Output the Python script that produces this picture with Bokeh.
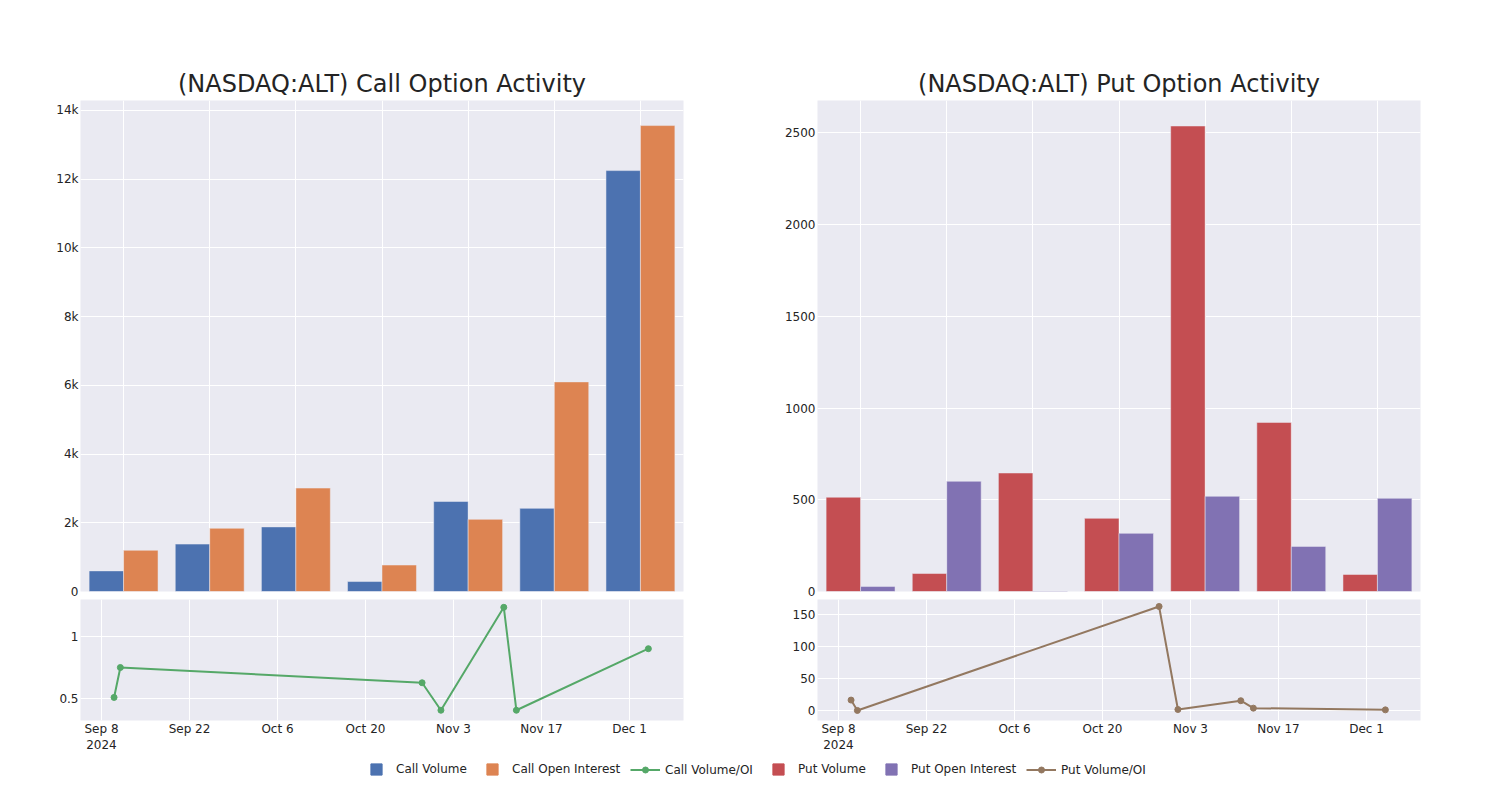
from datetime import datetime, timedelta
from bokeh.plotting import figure
from bokeh.models import (FactorRange, Range1d, FixedTicker, NumeralTickFormatter,
                          Legend, LegendItem, ColumnDataSource)
from bokeh.transform import dodge
from bokeh.layouts import column, row
from bokeh.embed import file_html
from bokeh.resources import INLINE

# ---------------- data ----------------
categories = ["Week 1", "Week 2", "Week 3", "Week 4", "Week 5", "Week 6", "Week 7"]
call_volume = [600, 1380, 1880, 290, 2620, 2420, 12250]
call_open_interest = [1200, 1840, 3010, 770, 2100, 6100, 13560]
put_volume = [514, 98, 646, 399, 2538, 922, 93]
put_open_interest = [27, 601, 3, 317, 519, 246, 508]

ratio_dates = ["2024-09-10", "2024-09-11", "2024-10-29", "2024-11-01",
               "2024-11-11", "2024-11-13", "2024-12-04"]
call_volume_oi = [0.505, 0.75, 0.625, 0.40, 1.243, 0.40, 0.904]
put_volume_oi = [16.3, 0.1, 162.5, 1.6, 15.3, 3.7, 1.0]

date_ticks = ["2024-09-08", "2024-09-22", "2024-10-06", "2024-10-20",
              "2024-11-03", "2024-11-17", "2024-12-01"]
date_tick_labels = ["Sep 8\n2024", "Sep 22", "Oct 6", "Oct 20", "Nov 3", "Nov 17", "Dec 1"]

call_title = "(NASDAQ:ALT) Call Option Activity"
put_title = "(NASDAQ:ALT) Put Option Activity"

# ---------------- style ----------------
FONT = "DejaVu Sans"
TXT = "#242424"
BG = "#EAEAF2"
C_BLUE = "#4C72B0"
C_ORANGE = "#DD8452"
C_GREEN = "#55A868"
C_RED = "#C44E52"
C_PURPLE = "#8172B3"
C_BROWN = "#937860"

EPOCH = datetime(1970, 1, 1)


def to_dt(s):
    return datetime.strptime(s, "%Y-%m-%d")


def to_ms(d):
    return (d - EPOCH).total_seconds() * 1000.0


def style(p):
    p.background_fill_color = BG
    p.border_fill_color = "white"
    p.outline_line_color = None
    p.grid.grid_line_color = "white"
    p.grid.grid_line_width = 1
    for ax in p.axis:
        ax.axis_line_color = None
        ax.major_tick_line_color = None
        ax.minor_tick_line_color = None
        ax.major_tick_out = 0
        ax.major_tick_in = 0
        ax.minor_tick_out = 0
        ax.minor_tick_in = 0
        ax.major_label_text_font = FONT
        ax.major_label_text_font_size = "12px"
        ax.major_label_text_color = TXT
        ax.major_label_standoff = 2


def bar_fig(title, a, b, ca, cb, yend, yticks, left, right, fmt=None):
    src = ColumnDataSource(dict(cat=categories, a=a, b=b))
    p = figure(x_range=FactorRange(*categories), y_range=Range1d(0, yend),
               width=750, height=599, min_border_left=left, min_border_right=right,
               min_border_top=100, min_border_bottom=8,
               output_backend="svg", toolbar_location=None, title=title)
    p.vbar(x=dodge("cat", -0.2, range=p.x_range), top="a", width=0.4, source=src,
           fill_color=ca, line_color=BG, line_width=0.5)
    p.vbar(x=dodge("cat", 0.2, range=p.x_range), top="b", width=0.4, source=src,
           fill_color=cb, line_color=BG, line_width=0.5)
    style(p)
    p.xaxis.visible = False
    p.yaxis.ticker = FixedTicker(ticks=yticks)
    if fmt is not None:
        p.yaxis.formatter = fmt
    p.title.text_font = FONT
    p.title.text_font_size = "24px"
    p.title.text_font_style = "normal"
    p.title.text_color = TXT
    p.title.align = "center"
    p.title.standoff = 5
    return p


x_start = to_dt("2024-09-08") - timedelta(days=3.341)
x_end = x_start + timedelta(days=95.93)


def line_fig(vals, color, y0, y1, yticks, left, right, y_over=None):
    dts = [to_dt(s) for s in ratio_dates]
    p = figure(x_axis_type="datetime", x_range=Range1d(x_start, x_end),
               y_range=Range1d(y0, y1), width=750, height=121 + 35,
               min_border_left=left, min_border_right=right,
               min_border_top=0, min_border_bottom=35,
               output_backend="svg", toolbar_location=None)
    p.line(x=dts, y=vals, line_color=color, line_width=2)
    p.scatter(x=dts, y=vals, size=6, fill_color=color, line_color=color)
    style(p)
    ticks = [to_ms(to_dt(s)) for s in date_ticks]
    p.xaxis.ticker = FixedTicker(ticks=ticks)
    p.xaxis.major_label_overrides = {t: lab for t, lab in zip(ticks, date_tick_labels)}
    p.xaxis.major_label_standoff = 1
    p.yaxis.ticker = FixedTicker(ticks=yticks)
    if y_over:
        p.yaxis.major_label_overrides = y_over
    return p


top_l = bar_fig(call_title, call_volume, call_open_interest, C_BLUE, C_ORANGE,
                14290, list(range(0, 14001, 2000)), 80, 67, NumeralTickFormatter(format="0a"))
top_r = bar_fig(put_title, put_volume, put_open_interest, C_RED, C_PURPLE,
                2677, list(range(0, 2501, 500)), 67, 80)

bot_l = line_fig(call_volume_oi, C_GREEN, 0.316, 1.307, [0.5, 1.0], 80, 67, {1.0: "1", 0.5: "0.5"})
bot_r = line_fig(put_volume_oi, C_BROWN, -15.6, 173.4, [0, 50, 100, 150], 67, 80)

# ---------------- legend ----------------
LEG_H = 28
lg = figure(width=1500, height=LEG_H, x_range=Range1d(0, 1), y_range=Range1d(0, 1),
            min_border=0, toolbar_location=None, output_backend="svg")
lg.axis.visible = False
lg.grid.visible = False
lg.outline_line_color = None
lg.background_fill_color = None
lg.border_fill_color = None

legend_labels = ["Call Volume", "Call Open Interest", "Call Volume/OI",
                 "Put Volume", "Put Open Interest", "Put Volume/OI"]
legend_colors = [C_BLUE, C_ORANGE, C_GREEN, C_RED, C_PURPLE, C_BROWN]
legend_kinds = ["bar", "bar", "line", "bar", "bar", "line"]
legend_x = [361, 477, 630, 763, 876, 1026]

for lab, col, kind, lx in zip(legend_labels, legend_colors, legend_kinds, legend_x):
    if kind == "bar":
        r = lg.scatter(x=[-10], y=[-10], marker="square", size=11, fill_color=col, line_color=col)
        rends = [r]
        gh, ly = LEG_H, 0
    else:
        r1 = lg.line(x=[-10, -9], y=[-10, -10], line_color=col, line_width=2)
        r2 = lg.scatter(x=[-10], y=[-10], marker="circle", size=6, fill_color=col, line_color=col)
        rends = [r1, r2]
        gh, ly = 15, 6
    leg = Legend(items=[LegendItem(label=lab, renderers=rends)], location=(lx, ly),
                 orientation="horizontal", glyph_width=30, glyph_height=gh,
                 label_standoff=5, label_height=gh, padding=0, margin=0, spacing=0,
                 border_line_color=None, background_fill_alpha=0,
                 label_text_font=FONT, label_text_font_size="12px", label_text_color=TXT)
    lg.add_layout(leg, "center")

layout = column(row(column(top_l, bot_l), column(top_r, bot_r)), lg)

open("out.html", "w").write(file_html(layout, INLINE))
